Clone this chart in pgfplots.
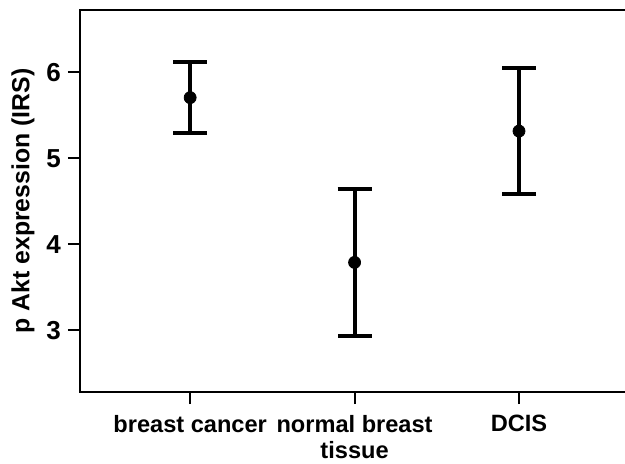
\documentclass[border=0pt]{standalone}
\usepackage{fontspec}
\setmainfont{Liberation Sans}
\usepackage{pgfplots}
\pgfplotsset{compat=1.18}
\begin{document}
\begin{tikzpicture}
\path[use as bounding box] (-40pt,-35.5pt) rectangle (272.5pt,196pt);
\begin{axis}[
 at={(0,0)}, anchor=south west,
 scale only axis, width=274pt, height=191pt,
 xmin=-0.67, xmax=2.663, ymin=2.283, ymax=6.725,
 xtick={0,1,2},
 xticklabels={breast cancer, {normal breast\\tissue}, DCIS},
 ytick={3,4,5,6},
 tick align=outside, major tick length=6pt,
 xtick pos=bottom, ytick pos=left,
 axis line style={line width=1pt},
 tick style={line width=1pt, black},
 yticklabel style={font=\bfseries\fontsize{13}{15}\selectfont},
 xticklabel style={font=\bfseries\fontsize{11.8}{13}\selectfont, align=center, yshift=-2pt},
 /pgf/number format/assume math mode=true,
 ylabel={p Akt expression (IRS)},
 ylabel style={font=\bfseries\fontsize{12.4}{14}\selectfont, at={(axis description cs:-0.104,0.5)}, anchor=center},
]
\addplot[only marks, mark=*, mark size=3pt, black,
  error bars/.cd, y dir=both, y explicit,
  error bar style={line width=2pt},
  error mark options={rotate=90, mark size=8.5pt, line width=2pt}]
coordinates {
 (0,5.706) += (0,0.417) -= (0,0.406)
 (1,3.790) += (0,0.853) -= (0,0.850)
 (2,5.317) += (0,0.736) -= (0,0.732)
};
\end{axis}
\end{tikzpicture}
\end{document}
